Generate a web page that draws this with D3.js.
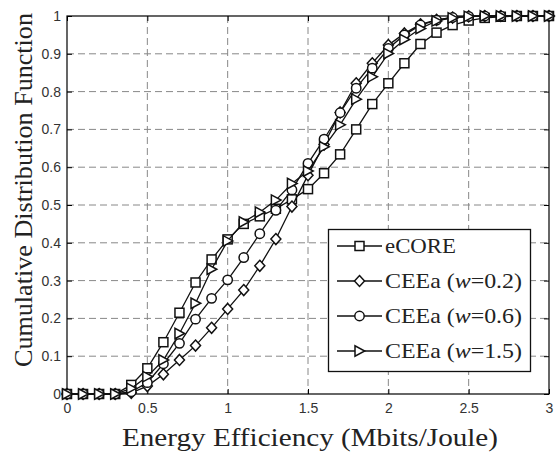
<!DOCTYPE html>
<html><head><meta charset="utf-8">
<script src="https://cdn.jsdelivr.net/npm/d3@7"></script>
<style>body{margin:0;background:#fff}svg{display:block}</style>
</head><body><svg id="c" width="556" height="455"></svg>
<script>
const xValues = [0,0.1,0.2,0.3,0.4,0.5,0.6,0.7,0.8,0.9,1.0,1.1,1.2,1.3,1.4,1.5,1.6,1.7,1.8,1.9,2.0,2.1,2.2,2.3,2.4,2.5,2.6,2.7,2.8,2.9,3.0];
const eCORE  = [0,0,0,0,0.024,0.068,0.137,0.215,0.295,0.356,0.409,0.45,0.47,0.49,0.515,0.542,0.584,0.634,0.70,0.767,0.822,0.875,0.926,0.956,0.976,0.988,0.995,0.998,1,1,1];
const ceeaW02 = [0,0,0,0,0.003,0.021,0.052,0.09,0.128,0.175,0.225,0.275,0.339,0.41,0.496,0.579,0.66,0.745,0.822,0.875,0.923,0.954,0.978,0.99,0.996,0.999,1,1,1,1,1];
const ceeaW06 = [0,0,0,0,0.006,0.03,0.08,0.134,0.198,0.253,0.302,0.361,0.424,0.486,0.54,0.61,0.674,0.744,0.809,0.862,0.914,0.95,0.976,0.989,0.996,0.999,1,1,1,1,1];
const ceeaW15 = [0,0,0,0,0.015,0.046,0.09,0.16,0.24,0.33,0.405,0.455,0.481,0.513,0.557,0.59,0.654,0.712,0.78,0.839,0.901,0.938,0.967,0.987,0.995,0.999,1,1,1,1,1];
const seriesNames = ["eCORE", "CEEa", "CEEa", "CEEa"];
const seriesW = [null, "0.2", "0.6", "1.5"];
const seriesMarkers = ["square", "diamond", "circle", "triangle"];
const xTicks = [0,0.5,1,1.5,2,2.5,3];
const xTickLabels = ["0","0.5","1","1.5","2","2.5","3"];
const yTicks = [0,0.1,0.2,0.3,0.4,0.5,0.6,0.7,0.8,0.9,1];
const yTickLabels = ["0","0.1","0.2","0.3","0.4","0.5","0.6","0.7","0.8","0.9","1"];
const xLabel = "Energy Efficiency (Mbits/Joule)";
const yLabel = "Cumulative Distribution Function";

const allSeries = [eCORE, ceeaW02, ceeaW06, ceeaW15];
const L = 67, R = 549, T = 16, B = 394;
const svg = d3.select("#c");
const x = d3.scaleLinear().domain([0,3]).range([L,R]);
const y = d3.scaleLinear().domain([0,1]).range([B,T]);

// grid
const g = svg.append("g");
g.selectAll(".gx").data(xTicks.slice(1,-1)).join("line")
  .attr("x1", d=>x(d)).attr("x2", d=>x(d)).attr("y1", T).attr("y2", B)
  .attr("stroke", "#888").attr("stroke-width", 1).attr("stroke-dasharray", "7,4");
g.selectAll(".gy").data(yTicks.slice(1,-1)).join("line")
  .attr("y1", d=>y(d)).attr("y2", d=>y(d)).attr("x1", L).attr("x2", R)
  .attr("stroke", "#888").attr("stroke-width", 1).attr("stroke-dasharray", "7,4");

// axes (ticks inside)
const fmtX = (d)=>xTickLabels[xTicks.indexOf(d)];
const fmtY = (d)=>yTickLabels[yTicks.indexOf(d)];
const axB = svg.append("g").attr("transform",`translate(0,${B})`)
  .call(d3.axisBottom(x).tickValues(xTicks).tickFormat(fmtX).tickSizeInner(-5).tickSizeOuter(0).tickPadding(9));
const axL = svg.append("g").attr("transform",`translate(${L},0)`)
  .call(d3.axisLeft(y).tickValues(yTicks).tickFormat(fmtY).tickSizeInner(-5).tickSizeOuter(0).tickPadding(6));
const axT = svg.append("g").attr("transform",`translate(0,${T})`)
  .call(d3.axisTop(x).tickValues(xTicks).tickFormat("").tickSizeInner(-5).tickSizeOuter(0));
const axR = svg.append("g").attr("transform",`translate(${R},0)`)
  .call(d3.axisRight(y).tickValues(yTicks).tickFormat("").tickSizeInner(-5).tickSizeOuter(0));
[axB,axL,axT,axR].forEach(a=>{
  a.select(".domain").remove();
  a.selectAll("line").attr("stroke","#000").attr("stroke-width",1);
  a.selectAll("text").attr("font-family","Liberation Sans, Arial, sans-serif").attr("font-size",14).attr("fill","#333");
});

// frame
svg.append("rect").attr("x",L).attr("y",T).attr("width",R-L).attr("height",B-T)
  .attr("fill","none").attr("stroke","#000").attr("stroke-width",1.2);

// markers
function marker(sel, type){
  if(type==="square") sel.append("rect").attr("x",-4.5).attr("y",-4.5).attr("width",9).attr("height",9);
  else if(type==="diamond") sel.append("path").attr("d","M0,-5.5L5,0L0,5.5L-5,0Z");
  else if(type==="circle") sel.append("circle").attr("r",4.7);
  else sel.append("path").attr("d","M-4.5,-5.2L-4.5,5.2L5.2,0Z");
  sel.selectAll("*").attr("fill","#fff").attr("stroke","#111").attr("stroke-width",1.5);
}

const line = d3.line().x((d,i)=>x(xValues[i])).y(d=>y(d));
allSeries.forEach((vals, si)=>{
  const sg = svg.append("g");
  sg.append("path").attr("d", line(vals)).attr("fill","none").attr("stroke","#111").attr("stroke-width",1.3);
  vals.forEach((v,i)=>{
    const m = sg.append("g").attr("transform",`translate(${x(xValues[i])},${y(v)})`);
    marker(m, seriesMarkers[si]);
  });
});

// legend
const lg = svg.append("g");
lg.append("rect").attr("x",328.5).attr("y",229.5).attr("width",202).attr("height",142)
  .attr("fill","#fff").attr("stroke","#111").attr("stroke-width",1.3);
const rowY = [246, 281, 316, 351];
seriesNames.forEach((nm,i)=>{
  const yy = rowY[i];
  lg.append("line").attr("x1",337).attr("x2",382).attr("y1",yy).attr("y2",yy).attr("stroke","#111").attr("stroke-width",1.4);
  const m = lg.append("g").attr("transform",`translate(359.5,${yy})`);
  marker(m, seriesMarkers[i]);
  const t = lg.append("text").attr("x",385).attr("y",yy+7)
    .attr("font-family","Liberation Serif, Times New Roman, serif").attr("font-size",21).attr("fill","#222")
    .attr("lengthAdjust","spacingAndGlyphs");
  if(seriesW[i]===null){ t.text(nm).attr("textLength",71); }
  else {
    t.attr("textLength",137);
    t.append("tspan").text(nm + "\u00a0(");
    t.append("tspan").attr("font-style","italic").text("w");
    t.append("tspan").text("=" + seriesW[i] + ")");
  }
});

// axis labels
svg.append("text").attr("x",310).attr("y",446).attr("text-anchor","middle")
  .attr("font-family","Liberation Serif, Times New Roman, serif").attr("font-size",26).attr("fill","#222")
  .attr("textLength",376).attr("lengthAdjust","spacingAndGlyphs").text(xLabel);
svg.append("text").attr("transform","translate(32,190) rotate(-90)").attr("text-anchor","middle")
  .attr("font-family","Liberation Serif, Times New Roman, serif").attr("font-size",25).attr("fill","#222")
  .attr("textLength",354).attr("lengthAdjust","spacingAndGlyphs").text(yLabel);
</script></body></html>
